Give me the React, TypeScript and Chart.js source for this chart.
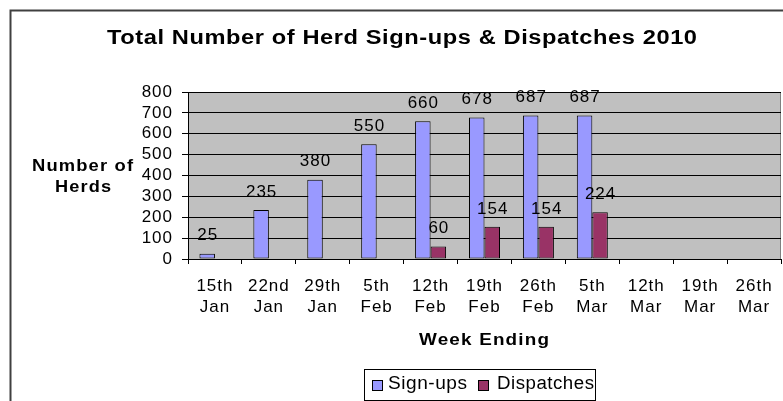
import React, { useEffect, useRef } from 'react';
import { Chart, registerables } from 'chart.js';

Chart.register(...registerables);

const chartTitle = 'Total Number of Herd Sign-ups & Dispatches 2010';
const yTitleLines = ['Number of', 'Herds'];
const xTitle = 'Week Ending';
const weekLabels = [
  ['15th', 'Jan'], ['22nd', 'Jan'], ['29th', 'Jan'], ['5th', 'Feb'], ['12th', 'Feb'],
  ['19th', 'Feb'], ['26th', 'Feb'], ['5th', 'Mar'], ['12th', 'Mar'], ['19th', 'Mar'], ['26th', 'Mar'],
];
const signUps = [25, 235, 380, 550, 660, 678, 687, 687, null, null, null];
const dispatches = [null, null, null, null, 60, 154, 154, 224, null, null, null];
const seriesNames = ['Sign-ups', 'Dispatches'];
const seriesColors = ['#9999FF', '#993366'];
const yMin = 0;
const yMax = 800;
const yStep = 100;

const FAMILY = '"Liberation Sans", Arial, sans-serif';

function drawFitted(ctx: CanvasRenderingContext2D, text: string, x: number, y: number, font: string, targetW: number, align: 'center' | 'left', ls = 0) {
  ctx.save();
  ctx.font = font;
  (ctx as any).letterSpacing = ls + 'px';
  const w = ctx.measureText(text).width - ls;
  const k = targetW / w;
  ctx.textAlign = 'left';
  ctx.textBaseline = 'alphabetic';
  ctx.fillStyle = '#000';
  const sx = align === 'center' ? x - targetW / 2 : x;
  ctx.translate(sx, y);
  ctx.scale(k, 1);
  ctx.fillText(text, 0, 0);
  ctx.restore();
}

const decorPlugin = {
  id: 'decor',
  beforeDraw(chart: any) {
    const { ctx, chartArea } = chart;
    ctx.save();
    ctx.fillStyle = '#fff';
    ctx.fillRect(0, 0, chart.width, chart.height);
    ctx.strokeStyle = '#404040';
    ctx.lineWidth = 2;
    ctx.strokeRect(10.5, 10.5, chart.width + 20, chart.height + 20);
    ctx.fillStyle = '#C0C0C0';
    ctx.fillRect(chartArea.left, chartArea.top, chartArea.right - chartArea.left, chartArea.bottom - chartArea.top);
    ctx.strokeStyle = '#808080';
    ctx.lineWidth = 1;
    ctx.strokeRect(chartArea.left + 0.5, chartArea.top + 0.5, chartArea.right - chartArea.left - 1, chartArea.bottom - chartArea.top);
    ctx.restore();
    (ctx as any).letterSpacing = '1px';
  },
  afterDatasetsDraw(chart: any) {
    const { ctx } = chart;
    ctx.save();
    ctx.font = '17px ' + FAMILY;
    (ctx as any).letterSpacing = '1px';
    ctx.fillStyle = '#000';
    ctx.textAlign = 'center';
    ctx.textBaseline = 'middle';
    chart.data.datasets.forEach((ds: any, i: number) => {
      const meta = chart.getDatasetMeta(i);
      meta.data.forEach((el: any, j: number) => {
        const v = ds.data[j];
        if (v === null || v === undefined) return;
        ctx.fillText(String(v), el.x + 0.5, el.y - 18);
      });
    });
    ctx.restore();
  },
  afterDraw(chart: any) {
    const { ctx } = chart;
    (ctx as any).letterSpacing = '0px';
    drawFitted(ctx, chartTitle, 402, 43.5, 'bold 20px ' + FAMILY, 590, 'center', 0.5);
    drawFitted(ctx, yTitleLines[0], 82.5, 170.5, 'bold 16px ' + FAMILY, 101, 'center', 1);
    drawFitted(ctx, yTitleLines[1], 83, 191.5, 'bold 16px ' + FAMILY, 56, 'center', 1);
    drawFitted(ctx, xTitle, 484, 345, 'bold 16px ' + FAMILY, 130, 'center', 1);
    ctx.save();
    ctx.strokeStyle = '#000';
    ctx.lineWidth = 1;
    ctx.strokeRect(364.5, 369.5, 231, 31);
    const sq = [372, 478];
    const tx = [388, 497];
    const tw = [79, 97];
    chart.data.datasets.forEach((ds: any, i: number) => {
      ctx.fillStyle = ds.backgroundColor;
      ctx.fillRect(sq[i], 380, 11, 11);
      ctx.strokeStyle = '#000';
      ctx.strokeRect(sq[i] + 0.5, 380.5, 10, 10);
      drawFitted(ctx, ds.label, tx[i], 388.5, '18px ' + FAMILY, tw[i], 'left', 0.5);
    });
    ctx.restore();
  },
};

export default function App() {
  const ref = useRef<HTMLCanvasElement | null>(null);
  useEffect(() => {
    if (!ref.current) return;
    const chart = new Chart(ref.current, {
      type: 'bar',
      data: {
        labels: weekLabels as any,
        datasets: [
          { label: seriesNames[0], data: signUps as any, backgroundColor: seriesColors[0], borderColor: '#000', borderWidth: 1, borderSkipped: false, categoryPercentage: 0.575, barPercentage: 1 },
          { label: seriesNames[1], data: dispatches as any, backgroundColor: seriesColors[1], borderColor: '#000', borderWidth: 1, borderSkipped: false, categoryPercentage: 0.575, barPercentage: 1 },
        ],
      },
      options: {
        responsive: false,
        devicePixelRatio: 1,
        animation: false,
        layout: { padding: { left: 0, right: 2, top: 92, bottom: 0 } },
        plugins: { legend: { display: false }, title: { display: false }, tooltip: { enabled: false } },
        scales: {
          x: {
            offset: true,
            grid: { display: true, drawOnChartArea: false, drawTicks: true, tickLength: 5, color: '#000', offset: true },
            border: { display: true, color: '#000', width: 1 },
            ticks: { color: '#000', font: { family: FAMILY, size: 17, lineHeight: 1.28 }, padding: 11, maxRotation: 0, autoSkip: false },
            afterFit: (s: any) => { s.height = 142; },
          },
          y: {
            min: yMin,
            max: yMax,
            grid: { color: '#000', tickLength: 6, drawTicks: true },
            border: { display: true, color: '#000', width: 1 },
            ticks: { stepSize: yStep, autoSkip: false, color: '#000', font: { family: FAMILY, size: 17 }, padding: 9 },
            afterFit: (s: any) => { s.width = 188; },
          },
        },
      },
      plugins: [decorPlugin],
    });
    return () => chart.destroy();
  }, []);
  return (
    <div style={{ position: 'absolute', left: 0, top: 0, width: 783, height: 401, background: '#fff' }}>
      <canvas ref={ref} width={783} height={401} style={{ display: 'block' }} />
    </div>
  );
}
